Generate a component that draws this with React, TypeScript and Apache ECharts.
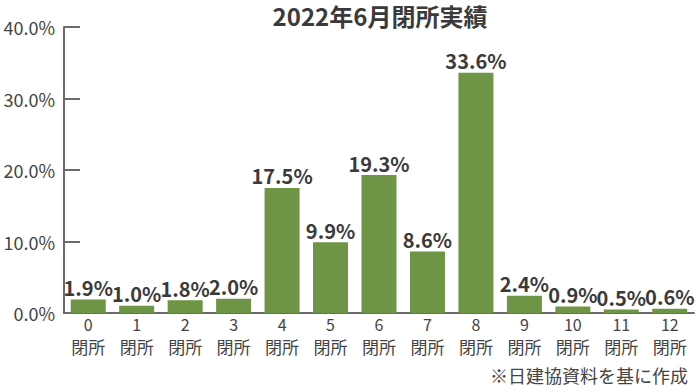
import React, { useEffect, useRef } from "react";
import * as echarts from "echarts";

const categories = ["0", "1", "2", "3", "4", "5", "6", "7", "8", "9", "10", "11", "12"];
const values = [1.9, 1.0, 1.8, 2.0, 17.5, 9.9, 19.3, 8.6, 33.6, 2.4, 0.9, 0.5, 0.6];
const titleText = "2022年6月閉所実績";
const suffix = "閉所";
const noteText = "※日建協資料を基に作成";

const FONT = "'Noto Sans CJK JP', 'Noto Sans', sans-serif";
const AXIS = "#6b6b6b";
const TEXT = "#444444";

export default function App() {
  const ref = useRef<HTMLDivElement>(null);
  useEffect(() => {
    if (!ref.current) return;
    const chart = echarts.init(ref.current, undefined, { renderer: "svg" });
    chart.setOption({
      animation: false,
      backgroundColor: "#ffffff",
      textStyle: { fontFamily: FONT },
      grid: { left: 64, right: 5, top: 27, bottom: 76, containLabel: false },
      xAxis: [
        {
          type: "category",
          data: categories,
          axisLine: { show: true, lineStyle: { color: AXIS, width: 2 } },
          axisTick: { show: false },
          axisLabel: {
            interval: 0,
            color: TEXT,
            fontSize: 16,
            margin: 3,
            fontFamily: FONT,
          },
        },
        {
          type: "category",
          data: categories,
          position: "bottom",
          offset: 23,
          axisLine: { show: false },
          axisTick: { show: false },
          axisLabel: {
            interval: 0,
            color: TEXT,
            fontSize: 17,
            margin: 2,
            fontFamily: FONT,
            formatter: () => suffix,
          },
        },
      ],
      yAxis: {
        type: "value",
        min: 0,
        max: 40,
        interval: 10,
        axisLine: { show: true, lineStyle: { color: AXIS, width: 2 } },
        axisTick: { show: true, inside: true, length: 16, lineStyle: { color: AXIS, width: 2 } },
        splitLine: { show: false },
        axisLabel: {
          color: TEXT,
          fontSize: 18,
          margin: 9,
          fontFamily: FONT,
          formatter: (v: number) => v.toFixed(1) + "%",
        },
      },
      series: [
        {
          type: "bar",
          xAxisIndex: 0,
          data: values,
          barWidth: 35,
          itemStyle: { color: "#6e9445" },
          label: {
            show: true,
            position: "top",
            distance: 2,
            color: "#3a3a3a",
            fontSize: 20,
            fontWeight: "bold",
            fontFamily: FONT,
            formatter: (p: any) => Number(p.value).toFixed(1) + "%",
          },
        },
      ],
      graphic: [
        {
          type: "text",
          x: 380,
          y: 3,
          style: {
            text: titleText,
            fontSize: 24,
            fontWeight: "bold",
            fill: "#3a3a3a",
            fontFamily: FONT,
            textAlign: "center",
            textVerticalAlign: "top",
          },
        },
        {
          type: "text",
          right: 11,
          top: 366,
          style: { text: noteText, fontSize: 18, fill: TEXT, fontFamily: FONT },
        },
      ],
    });
    return () => chart.dispose();
  }, []);
  return <div ref={ref} style={{ width: 699, height: 389, position: "absolute", left: 0, top: 0 }} />;
}
